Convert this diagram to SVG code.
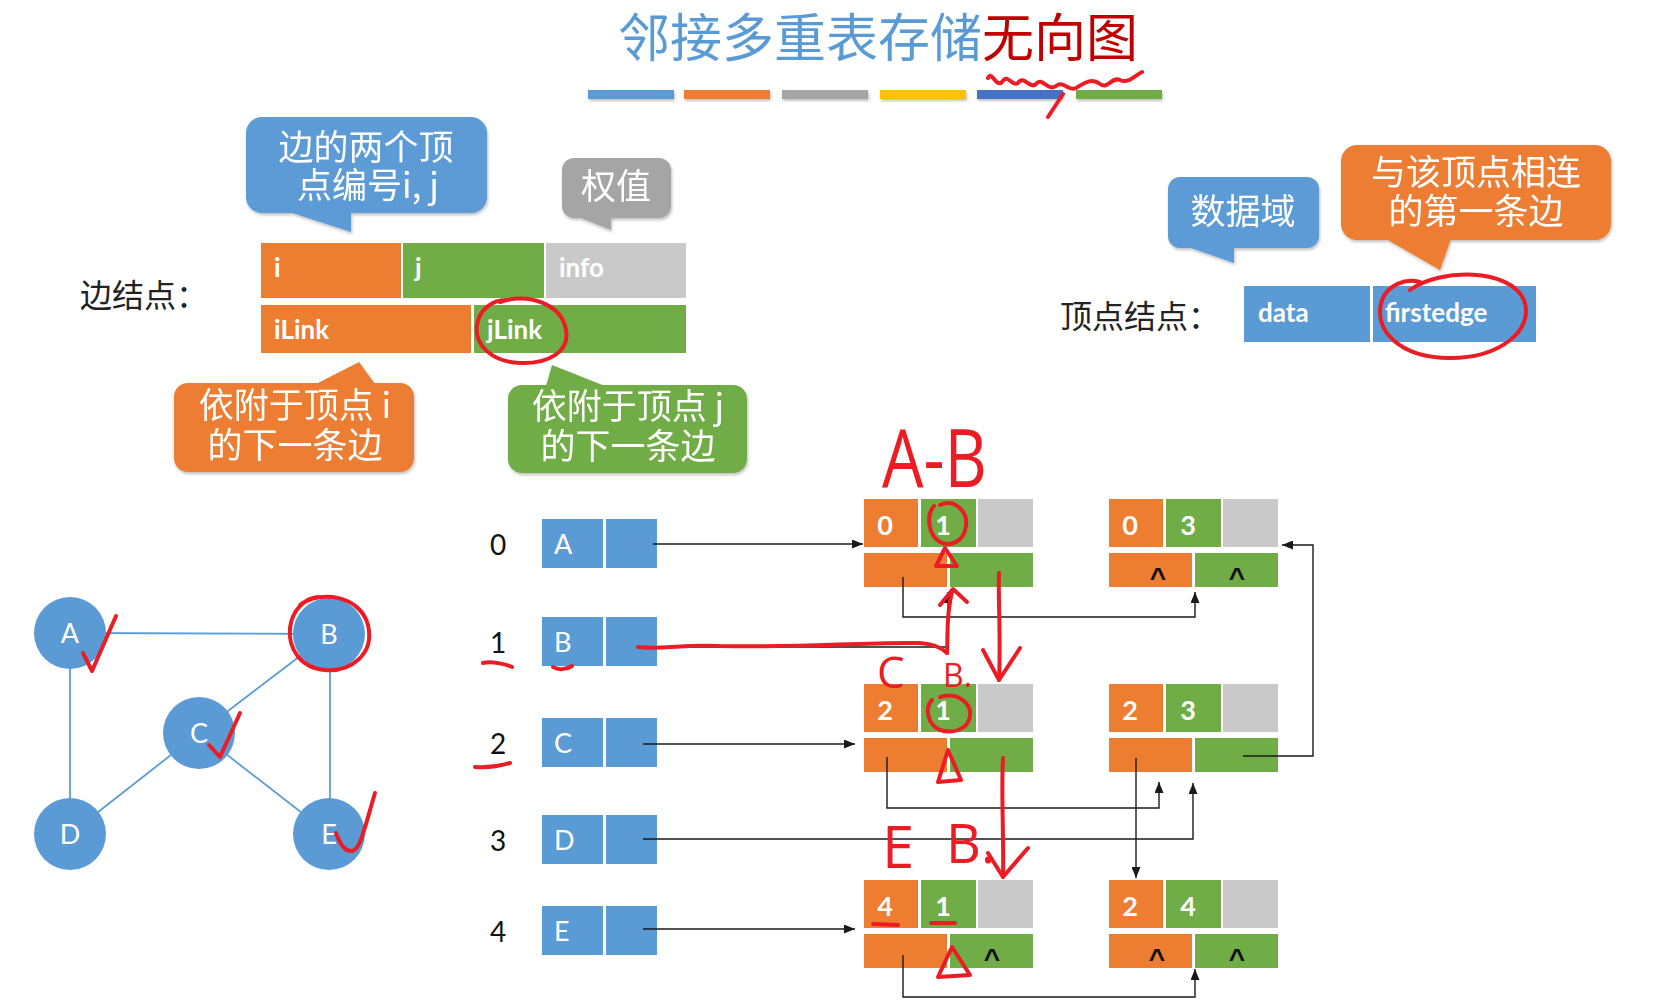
<svg xmlns="http://www.w3.org/2000/svg" width="1679" height="1005" viewBox="0 0 1679 1005">
<defs>
<style>
.or{fill:#ED7D31}.gr{fill:#70AD47}.gy{fill:#C9C9C9}.bl{fill:#5B9BD5}
.v{font-family:Lato,"Liberation Sans",sans-serif;font-weight:bold;font-size:26px;fill:#fff}
.d{font-family:Lato,"Liberation Sans",sans-serif;font-weight:bold;font-size:27px;fill:#fff;text-anchor:middle}
.n{font-family:Lato,"Liberation Sans",sans-serif;font-size:27px;fill:#fff}
.gn{font-family:Lato,"Liberation Sans",sans-serif;font-size:27px;fill:#fff;text-anchor:middle}
.idx{font-family:Lato,"Liberation Sans",sans-serif;font-size:28px;fill:#111;text-anchor:middle}
.caret{font-family:"Liberation Sans",sans-serif;font-weight:bold;font-size:28px;fill:#111;text-anchor:middle}
.cn{font-family:"Noto Sans CJK SC","Noto Sans",sans-serif}
.bt{font-family:"Noto Sans CJK SC","Noto Sans",sans-serif;font-size:35px;fill:#fff;text-anchor:middle}
.lab{font-family:"Noto Sans CJK SC","Noto Sans",sans-serif;font-size:32px;fill:#222}
.con{stroke:#1a1a1a;stroke-width:1.4;fill:none}
.ge{stroke:#5B9BD5;stroke-width:1.8}
.red{stroke:#EC1C24;stroke-width:4;fill:none;stroke-linecap:round;stroke-linejoin:round}
.hw{font-family:"Open Sans","DejaVu Sans",sans-serif;fill:#EC1C24}
</style>
<marker id="ah" viewBox="0 0 11 9" refX="11" refY="4.5" markerWidth="11" markerHeight="9" markerUnits="userSpaceOnUse" orient="auto"><path d="M0,0 L11,4.5 L0,9 z" fill="#1a1a1a"/></marker>
<filter id="sh" x="-10%" y="-10%" width="130%" height="140%"><feDropShadow dx="1" dy="2" stdDeviation="1.5" flood-color="#000" flood-opacity="0.25"/></filter>
</defs>
<rect width="1679" height="1005" fill="#fff"/>

<g id="title">
<text x="618" y="57" class="cn" font-size="52"><tspan fill="#5B9BD5">邻接多重表存储</tspan><tspan fill="#C00000">无向图</tspan></text>
<g filter="url(#sh)">
<rect x="588" y="90" width="86" height="9" fill="#5B9BD5"/>
<rect x="684" y="90" width="86" height="9" fill="#ED7D31"/>
<rect x="782" y="90" width="86" height="9" fill="#A5A5A5"/>
<rect x="880" y="90" width="86" height="9" fill="#FFC000"/>
<rect x="977" y="90" width="86" height="9" fill="#4472C4"/>
<rect x="1076" y="90" width="86" height="9" fill="#70AD47"/>
</g>
</g>

<g id="bubble-ij" filter="url(#sh)">
<rect x="246" y="117" width="241" height="96" rx="16" class="bl"/>
<path d="M289,212 L351,232 L351,212 Z" class="bl"/>
<text class="bt"><tspan x="366" y="160">边的两个顶</tspan><tspan x="368" y="198">点编号i, j</tspan></text>
</g>
<g id="bubble-info" filter="url(#sh)">
<rect x="562" y="158" width="109" height="60" rx="12" fill="#A5A5A5"/>
<path d="M578,217 L611,230 L611,217 Z" fill="#A5A5A5"/>
<text class="bt" x="616" y="199">权值</text>
</g>
<g id="bubble-ilink" filter="url(#sh)">
<rect x="174" y="383" width="240" height="89" rx="14" class="or"/>
<path d="M316,384 L359,362 L375,384 Z" class="or"/>
<text class="bt"><tspan x="295" y="418">依附于顶点 i</tspan><tspan x="295" y="458">的下一条边</tspan></text>
</g>
<g id="bubble-jlink" filter="url(#sh)">
<rect x="508" y="385" width="239" height="88" rx="14" class="gr"/>
<path d="M546,386 L552,365 L605,386 Z" class="gr"/>
<text class="bt"><tspan x="628" y="419">依附于顶点 j</tspan><tspan x="628" y="459">的下一条边</tspan></text>
</g>
<g id="bubble-data" filter="url(#sh)">
<rect x="1168" y="177" width="151" height="71" rx="12" class="bl"/>
<path d="M1188,247 L1234,263 L1234,247 Z" class="bl"/>
<text class="bt" x="1243" y="224">数据域</text>
</g>
<g id="bubble-firstedge" filter="url(#sh)">
<rect x="1341" y="145" width="270" height="95" rx="16" class="or"/>
<path d="M1386,239 L1440,270 L1451,239 Z" class="or"/>
<text class="bt"><tspan x="1476" y="185">与该顶点相连</tspan><tspan x="1476" y="224">的第一条边</tspan></text>
</g>

<g id="edge-node-legend">
<text class="lab" x="80" y="307">边结点：</text>
<rect x="261" y="243" width="140" height="55" class="or"/>
<rect x="403" y="243" width="141" height="55" class="gr"/>
<rect x="546" y="243" width="140" height="55" class="gy"/>
<rect x="261" y="305" width="210" height="48" class="or"/>
<rect x="474" y="305" width="212" height="48" class="gr"/>
<text class="v" x="274" y="277">i</text>
<text class="v" x="415" y="277">j</text>
<text class="v" x="559" y="277">info</text>
<text class="v" x="274" y="339">iLink</text>
<text class="v" x="487" y="339">jLink</text>
</g>

<g id="vertex-node-legend">
<text class="lab" x="1060" y="328">顶点结点：</text>
<rect x="1244" y="286" width="126" height="56" class="bl"/>
<rect x="1373" y="286" width="163" height="56" class="bl"/>
<text class="v" x="1258" y="322">data</text>
<text class="v" x="1385" y="322">firstedge</text>
</g>

<g id="graph">
<line class="ge" x1="70" y1="633" x2="329" y2="634"/>
<line class="ge" x1="70" y1="633" x2="70" y2="834"/>
<line class="ge" x1="330" y1="634" x2="330" y2="834"/>
<line class="ge" x1="329" y1="634" x2="199" y2="733"/>
<line class="ge" x1="199" y1="733" x2="70" y2="834"/>
<line class="ge" x1="199" y1="733" x2="329" y2="834"/>
<g id="gA"><circle cx="70" cy="633" r="36" class="bl"/><text class="gn" x="70" y="643">A</text></g>
<g id="gB"><circle cx="329" cy="634" r="36" class="bl"/><text class="gn" x="329" y="644">B</text></g>
<g id="gC"><circle cx="199" cy="733" r="36" class="bl"/><text class="gn" x="199" y="743">C</text></g>
<g id="gD"><circle cx="70" cy="834" r="36" class="bl"/><text class="gn" x="70" y="844">D</text></g>
<g id="gE"><circle cx="329" cy="834" r="36" class="bl"/><text class="gn" x="329" y="844">E</text></g>
</g>

<g id="vertex-table">
<g id="v0"><text class="idx" x="498" y="555">0</text><rect x="542" y="519" width="61" height="49" class="bl"/><rect x="606" y="519" width="51" height="49" class="bl"/><text class="n" x="554" y="554">A</text></g>
<g id="v1"><text class="idx" x="498" y="653">1</text><rect x="542" y="617" width="61" height="49" class="bl"/><rect x="606" y="617" width="51" height="49" class="bl"/><text class="n" x="554" y="652">B</text></g>
<g id="v2"><text class="idx" x="498" y="754">2</text><rect x="542" y="718" width="61" height="49" class="bl"/><rect x="606" y="718" width="51" height="49" class="bl"/><text class="n" x="554" y="753">C</text></g>
<g id="v3"><text class="idx" x="498" y="851">3</text><rect x="542" y="815" width="61" height="49" class="bl"/><rect x="606" y="815" width="51" height="49" class="bl"/><text class="n" x="554" y="850">D</text></g>
<g id="v4"><text class="idx" x="498" y="942">4</text><rect x="542" y="906" width="61" height="49" class="bl"/><rect x="606" y="906" width="51" height="49" class="bl"/><text class="n" x="554" y="941">E</text></g>
</g>

<g id="e01">
<rect x="864" y="499" width="54" height="48" class="or"/><rect x="921" y="499" width="55" height="48" class="gr"/><rect x="978" y="499" width="55" height="48" class="gy"/>
<rect x="864" y="553" width="83" height="34" class="or"/><rect x="950" y="553" width="83" height="34" class="gr"/>
<text class="d" x="885" y="535">0</text><text class="d" x="943" y="535">1</text>
</g>
<g id="e03">
<rect x="1109" y="499" width="54" height="48" class="or"/><rect x="1166" y="499" width="55" height="48" class="gr"/><rect x="1223" y="499" width="55" height="48" class="gy"/>
<rect x="1109" y="553" width="83" height="34" class="or"/><rect x="1195" y="553" width="83" height="34" class="gr"/>
<text class="d" x="1130" y="535">0</text><text class="d" x="1188" y="535">3</text>
<text class="caret" x="1158" y="587">^</text><text class="caret" x="1237" y="587">^</text>
</g>
<g id="e21">
<rect x="864" y="684" width="54" height="48" class="or"/><rect x="921" y="684" width="55" height="48" class="gr"/><rect x="978" y="684" width="55" height="48" class="gy"/>
<rect x="864" y="738" width="83" height="34" class="or"/><rect x="950" y="738" width="83" height="34" class="gr"/>
<text class="d" x="885" y="720">2</text><text class="d" x="943" y="720">1</text>
</g>
<g id="e23">
<rect x="1109" y="684" width="54" height="48" class="or"/><rect x="1166" y="684" width="55" height="48" class="gr"/><rect x="1223" y="684" width="55" height="48" class="gy"/>
<rect x="1109" y="738" width="83" height="34" class="or"/><rect x="1195" y="738" width="83" height="34" class="gr"/>
<text class="d" x="1130" y="720">2</text><text class="d" x="1188" y="720">3</text>
</g>
<g id="e41">
<rect x="864" y="880" width="54" height="48" class="or"/><rect x="921" y="880" width="55" height="48" class="gr"/><rect x="978" y="880" width="55" height="48" class="gy"/>
<rect x="864" y="934" width="83" height="34" class="or"/><rect x="950" y="934" width="83" height="34" class="gr"/>
<text class="d" x="885" y="916">4</text><text class="d" x="943" y="916">1</text>
<text class="caret" x="992" y="968">^</text>
</g>
<g id="e24">
<rect x="1109" y="880" width="54" height="48" class="or"/><rect x="1166" y="880" width="55" height="48" class="gr"/><rect x="1223" y="880" width="55" height="48" class="gy"/>
<rect x="1109" y="934" width="83" height="34" class="or"/><rect x="1195" y="934" width="83" height="34" class="gr"/>
<text class="d" x="1130" y="916">2</text><text class="d" x="1188" y="916">4</text>
<text class="caret" x="1157" y="968">^</text><text class="caret" x="1237" y="968">^</text>
</g>

<g id="connectors">
<path class="con" d="M653,544 H863" marker-end="url(#ah)"/>
<path class="con" d="M643,647 H948 V592" marker-end="url(#ah)"/>
<path class="con" d="M643,744 H855" marker-end="url(#ah)"/>
<path class="con" d="M643,839 H1193 V783" marker-end="url(#ah)"/>
<path class="con" d="M643,929 H855" marker-end="url(#ah)"/>
<path class="con" d="M903,577 V617 H1195 V592" marker-end="url(#ah)"/>
<path class="con" d="M887,757 V808 H1159 V782" marker-end="url(#ah)"/>
<path class="con" d="M1136,758 V878" marker-end="url(#ah)"/>
<path class="con" d="M1243,756 H1313 V545 H1282" marker-end="url(#ah)"/>
<path class="con" d="M903,955 V997 H1195 V969" marker-end="url(#ah)"/>
</g>

<g id="annotations">
<path class="red" d="M988,78 C992,70 996,88 1002,82 C1008,72 1012,88 1018,83 C1024,74 1030,90 1036,84 C1042,76 1048,92 1056,86 C1064,80 1068,92 1076,88 C1086,82 1092,78 1100,84 C1108,90 1112,76 1120,80 C1128,84 1134,76 1142,72"/>
<path class="red" d="M1063,94 L1048,117"/>
<path class="red" d="M500,302 C530,292 562,305 566,330 C570,352 548,364 520,363 C492,362 474,345 477,325 C479,310 492,300 506,300"/>
<path class="red" d="M1410,290 C1440,268 1510,268 1524,300 C1535,330 1500,358 1450,358 C1400,358 1372,330 1382,300 C1388,285 1405,278 1420,282"/>
<path class="red" d="M300,605 C320,590 360,595 368,625 C375,655 350,672 325,670 C300,668 288,648 290,628 C292,610 305,598 318,597"/>
<path class="red" d="M83,653 L92,671 L116,616"/>
<path class="red" d="M209,745 L220,757 L240,713"/>
<path class="red" d="M336,833 C340,845 346,852 352,851 C360,850 364,830 375,793"/>
<path class="red" d="M483,663 C492,661 505,664 512,667"/>
<path class="red" d="M553,667 C558,670 566,670 572,666"/>
<path class="red" d="M475,767 C488,768 500,766 510,763"/>
<path class="red" d="M638,647 C660,650 680,644 720,646 C800,648 860,642 920,643 C935,644 942,648 947,653"/>
<path class="red" d="M947,653 C948,635 946,615 952,592"/>
<path class="red" d="M940,605 L953,589 L967,602"/>
<path class="red" d="M999,573 C998,600 1001,640 999,680"/>
<path class="red" d="M983,650 L999,680 L1020,648"/>
<path class="red" d="M1003,758 C1001,790 1004,840 1003,877"/>
<path class="red" d="M988,853 L1003,877 L1028,848"/>
<path class="red" d="M940,505 C955,498 968,512 966,526 C964,542 950,547 940,542 C928,535 926,515 934,506"/>
<path class="red" d="M945,548 L936,566 L957,566 Z"/>
<path class="red" d="M940,697 C956,692 972,702 970,716 C968,730 952,734 940,730 C928,725 924,708 932,700"/>
<path class="red" d="M948,750 L938,782 L961,780 Z"/>
<path class="red" d="M952,947 L938,977 L970,975 Z"/>
<path class="red" d="M873,924 L898,925"/>
<path class="red" d="M931,923 L955,923"/>
<text class="hw" x="882" y="487" font-size="80" textLength="105" lengthAdjust="spacingAndGlyphs">A-B</text>
<text class="hw"><tspan x="877" y="688" font-size="44">C</tspan><tspan x="943" y="687" font-size="32">B.</tspan></text>
<text class="hw"><tspan x="882" y="868" font-size="58">E</tspan><tspan x="946" y="863" font-size="54">B.</tspan></text>
</g>
</svg>
